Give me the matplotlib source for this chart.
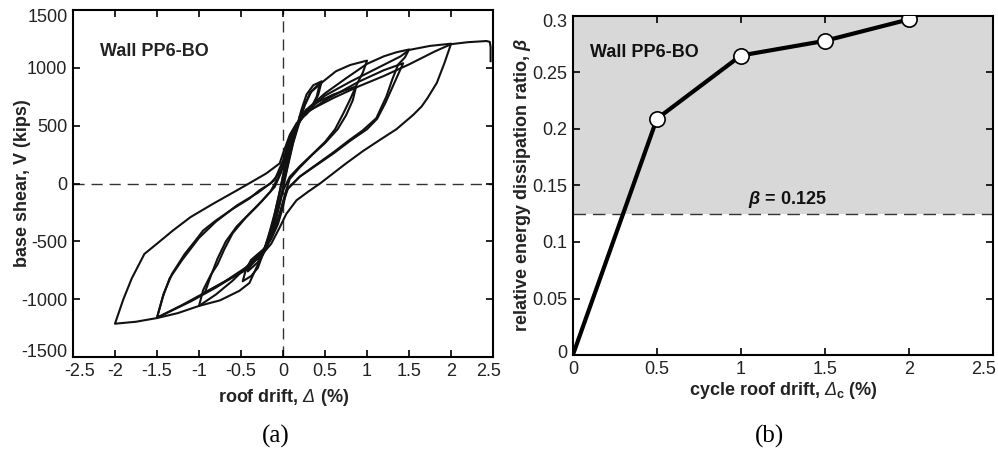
import matplotlib
matplotlib.use("Agg")
import matplotlib.pyplot as plt
from matplotlib.transforms import ScaledTranslation

plt.rcParams['font.family'] = ['Liberation Sans', 'DejaVu Sans']
plt.rcParams['mathtext.fontset'] = 'custom'
plt.rcParams['mathtext.rm'] = 'Liberation Sans:bold'
plt.rcParams['mathtext.it'] = 'Liberation Sans:bold:italic'
plt.rcParams['mathtext.bf'] = 'Liberation Sans:bold'
plt.rcParams['mathtext.cal'] = 'Liberation Sans:italic'

# ---- (a) hysteresis, roof drift (%) vs base shear (kips)
drift_c1 = [0, 0.05, 0.1, 0.16, 0.22, 0.28, 0.36, 0.46,
            0.42, 0.36, 0.28, 0.2, 0.12, 0.05, 0, -0.05, -0.12, -0.18, -0.24, -0.3, -0.38, -0.48,
            -0.44, -0.38, -0.3, -0.22, -0.14, -0.06, 0, 0.06, 0.12, 0.2]
shear_c1 = [0, 180, 340, 480, 640, 770, 850, 884,
            770, 670, 600, 550, 430, 240, 70, -110, -330, -480, -610, -730, -800, -845,
            -740, -660, -610, -560, -430, -220, -40, 160, 350, 540]

drift_c2 = [0.2, 0.26, 0.34, 0.44, 0.4, 0.33, 0.25, 0.16, 0.08, 0.02, -0.04, -0.1, -0.16,
            -0.22, -0.3, -0.42, -0.38, -0.3, -0.2, -0.1, -0.03, 0.03, 0.1, 0.2]
shear_c2 = [540, 680, 800, 870, 750, 650, 590, 500, 330, 130, -70, -260, -420,
            -560, -680, -760, -680, -620, -560, -360, -150, 80, 300, 580]

drift_c3 = [0.2, 0.32, 0.48, 0.63, 0.8, 1.0,
            0.95, 0.88, 0.8, 0.72, 0.62, 0.5, 0.36, 0.2, 0.08, 0, -0.06, -0.12, -0.2, -0.3,
            -0.4, -0.52, -0.75, -1.0,
            -0.95, -0.86, -0.78, -0.7, -0.6, -0.45, -0.3, -0.15, -0.05, 0.02, 0.08, 0.16, 0.26]
shear_c3 = [580, 783, 884, 971, 1025, 1063,
            960, 860, 730, 610, 470, 360, 261, 150, 58, -60, -220, -400, -560, -700,
            -860, -928, -1010, -1058,
            -920, -790, -700, -570, -430, -300, -190, -70, 60, 210, 370, 500, 620]

drift_c4 = [0.26, 0.4, 0.6, 0.87, 0.83, 0.75, 0.65, 0.5, 0.35, 0.2, 0.08, 0.02, -0.04, -0.1,
            -0.18, -0.28, -0.45, -0.7, -0.93,
            -0.86, -0.78, -0.68, -0.55, -0.4, -0.25, -0.1, -0.02, 0.04, 0.1, 0.18, 0.28]
shear_c4 = [620, 700, 770, 840, 720, 590, 470, 350, 250, 140, 40, -100, -260, -400,
            -520, -620, -730, -850, -943,
            -800, -650, -500, -370, -260, -150, -30, 100, 280, 420, 530, 640]

drift_c5 = [0.28, 0.5, 0.75, 1.0, 1.2, 1.35, 1.5,
            1.45, 1.37, 1.3, 1.23, 1.11, 0.95, 0.79, 0.6, 0.36, 0.2, 0.04, 0, -0.06, -0.14,
            -0.25, -0.42, -0.7, -0.93, -1.2, -1.5,
            -1.42, -1.32, -1.17, -1.05, -0.95, -0.8, -0.6, -0.4, -0.28, -0.15, -0.08, 0,
            0.06, 0.14, 0.26]
shear_c5 = [640, 780, 910, 1035, 1100, 1135, 1159,
            1090, 1029, 900, 753, 565, 460, 376, 270, 145, 60, -58, -200, -350, -480,
            -600, -740, -850, -943, -1050, -1160,
            -950, -780, -609, -500, -406, -320, -220, -130, -58, 0, 58, 145,
            320, 470, 600]

drift_c6 = [0.26, 0.5, 0.9, 1.2, 1.43, 1.38, 1.3, 1.22, 1.12, 1.0, 0.8, 0.6, 0.4, 0.2, 0.06,
            0, -0.06, -0.14, -0.25, -0.4, -0.8, -1.1, -1.5,
            -1.43, -1.35, -1.2, -1.0, -0.8, -0.55, -0.3, -0.1, 0, 0.08, 0.16, 0.28]
shear_c6 = [600, 720, 880, 980, 1040, 960, 830, 700, 560, 470, 370, 260, 160, 60, -40,
            -170, -320, -470, -590, -720, -900, -1020, -1160,
            -980, -820, -660, -470, -330, -190, -80, 30, 200, 400, 510, 630]

drift_c7 = [0.28, 0.5, 0.8, 1.1, 1.4, 1.5, 1.75, 2.0,
            1.92, 1.83, 1.72, 1.65, 1.55, 1.35, 1.15, 0.95, 0.75, 0.6, 0.44, 0.3, 0.16, 0.04,
            -0.04, -0.14, -0.28, -0.44, -0.6, -0.8, -1.0, -1.25, -1.5, -1.75, -2.0,
            -1.9, -1.8, -1.65, -1.5, -1.31, -1.1, -0.83, -0.6, -0.44, -0.2, -0.04, 0,
            0.08, 0.16, 0.28]
shear_c7 = [620, 760, 880, 990, 1100, 1155, 1190, 1209,
            1040, 870, 740, 667, 594, 470, 376, 280, 174, 90, 0, -70, -145, -261,
            -380, -520, -640, -725, -840, -960, -1058, -1120, -1163, -1195, -1212,
            -1000, -820, -609, -520, -406, -290, -174, -80, -14, 87, 174, 260,
            420, 520, 620]

drift_c8 = [0.28, 0.6, 0.9, 1.2, 1.5, 1.8, 2.0, 2.2, 2.42, 2.46, 2.47, 2.47]
shear_c8 = [620, 740, 840, 930, 1030, 1140, 1205, 1222, 1232, 1225, 1180, 1058]

# ---- (b) relative energy dissipation ratio
cycle_drift = [0, 0.5, 1.0, 1.5, 2.0]
beta = [0, 0.209, 0.265, 0.278, 0.297]
beta_min = 0.125

x_ticks_a = [-2.5, -2, -1.5, -1, -0.5, 0, 0.5, 1, 1.5, 2, 2.5]
x_labels_a = ['-2.5', '-2', '-1.5', '-1', '-0.5', '0', '0.5', '1', '1.5', '2', '2.5']
y_ticks_a = [-1500, -1000, -500, 0, 500, 1000, 1500]
y_labels_a = ['-1500', '-1000', '-500', '0', '500', '1000', '1500']
x_ticks_b = [0, 0.5, 1, 1.5, 2, 2.5]
x_labels_b = ['0', '0.5', '1', '1.5', '2', '2.5']
y_ticks_b = [0, 0.05, 0.1, 0.15, 0.2, 0.25, 0.3]
y_labels_b = ['0', '0.05', '0.1', '0.15', '0.2', '0.25', '0.3']

fig = plt.figure(figsize=(9.98, 4.67), dpi=100)
ax1 = fig.add_axes([0.0731, 0.2355, 0.421, 0.743])
ax2 = fig.add_axes([0.574, 0.2398, 0.421, 0.726])

def style(ax):
    ax.tick_params(direction='in', top=True, right=True, length=5, width=1.2,
                   labelsize=13, labelcolor='#222222', pad=4)
    for s in ax.spines.values():
        s.set_linewidth(1.5)

def nudge(label, dx, dy):
    # shift an end tick label inward, in pixels
    label.set_transform(label.get_transform() +
                        ScaledTranslation(dx / 100, dy / 100, fig.dpi_scale_trans))

# (a)
ax1.axhline(0, color='#333333', lw=1, dashes=(8, 5), zorder=1)
ax1.axvline(0, color='#333333', lw=1, dashes=(8, 5), zorder=1)
cyc = [(drift_c1, shear_c1), (drift_c2, shear_c2), (drift_c3, shear_c3),
       (drift_c4, shear_c4), (drift_c5, shear_c5), (drift_c6, shear_c6),
       (drift_c7, shear_c7), (drift_c8, shear_c8)]
for dx, dv in cyc:
    ax1.plot(dx, dv, color='#111111', lw=1.5, solid_joinstyle='round', zorder=2)
ax1.set_xlim(-2.5, 2.5)
ax1.set_ylim(-1500, 1500)
ax1.set_xticks(x_ticks_a)
ax1.set_xticklabels(x_labels_a)
ax1.set_yticks(y_ticks_a)
ax1.set_yticklabels(y_labels_a)
style(ax1)
ax1.text(-2.18, 1142, 'Wall PP6-BO', fontsize=13, fontweight='bold', color='#222222',
         ha='left', va='center')
ax1.set_xlabel(r'roof drift, $\mathcal{\Delta}$ (%)', fontsize=13, fontweight='bold',
               color='#222222', va='center')
ax1.set_ylabel('base shear, V (kips)', fontsize=13, fontweight='bold', color='#222222',
               va='center')
ax1.xaxis.set_label_coords(0.5, -0.118)
ax1.yaxis.set_label_coords(-0.121, 0.5)

# (b)
ax2.axhspan(beta_min, 0.3, color='#d8d8d8', lw=0, zorder=0)
ax2.axhline(beta_min, color='#333333', lw=1, dashes=(9, 5), zorder=1)
ax2.plot(cycle_drift, beta, color='black', lw=3, zorder=3)
ax2.plot(cycle_drift[1:], beta[1:], 'o', ms=11, mfc='white', mec='black', mew=1.2, zorder=4)
ax2.set_xlim(0, 2.5)
ax2.set_ylim(0, 0.3)
ax2.set_xticks(x_ticks_b)
ax2.set_xticklabels(x_labels_b)
ax2.set_yticks(y_ticks_b)
ax2.set_yticklabels(y_labels_b)
style(ax2)
ax2.text(0.1, 0.2675, 'Wall PP6-BO', fontsize=13, fontweight='bold', color='#111111',
         ha='left', va='center')
ax2.text(1.277, 0.1377, r'$\beta$ = 0.125', fontsize=13, fontweight='bold', color='#111111',
         ha='center', va='center')
ax2.set_xlabel(r'cycle roof drift, $\mathcal{\Delta}_\mathbf{c}$ (%)', fontsize=13,
               fontweight='bold', color='#222222', va='center')
ax2.set_ylabel(r'relative energy dissipation ratio, $\beta$', fontsize=13,
               fontweight='bold', color='#222222', va='center')
ax2.xaxis.set_label_coords(0.5, -0.104)
ax2.yaxis.set_label_coords(-0.121, 0.5)

# end tick labels sit inside the frame in the reference
xl = ax1.get_xticklabels()
nudge(xl[0], 7, 0)
nudge(xl[-1], -5, 0)
yl = ax1.get_yticklabels()
nudge(yl[0], 0, 7)
nudge(yl[-1], 0, -5)
nudge(ax2.get_xticklabels()[-1], -9, 0)
yl = ax2.get_yticklabels()
nudge(yl[0], 0, 4)
nudge(yl[-1], 0, -5)

fig.text(0.2766, 0.066, '(a)', fontsize=18, family='Liberation Serif', ha='center', va='center')
fig.text(0.771, 0.066, '(b)', fontsize=18, family='Liberation Serif', ha='center', va='center')

fig.savefig('out.png', dpi=100)
